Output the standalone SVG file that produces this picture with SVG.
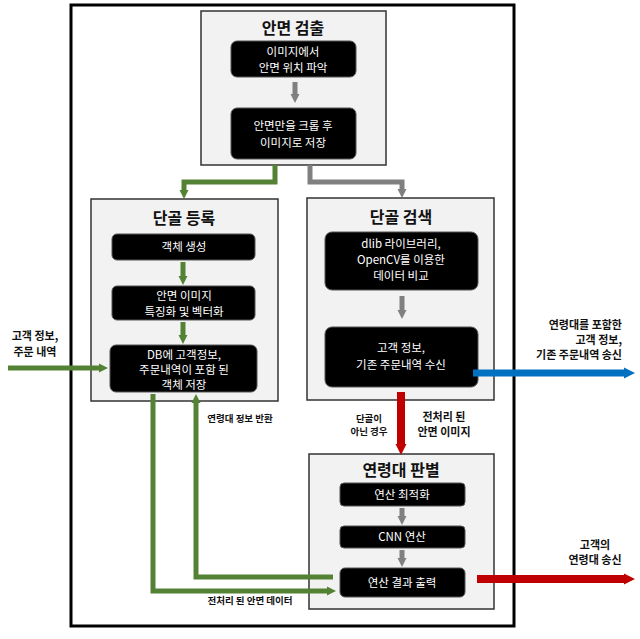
<svg xmlns="http://www.w3.org/2000/svg" width="640" height="639" viewBox="0 0 640 639">
<defs>
<style>
.frame{fill:#fff;stroke:#000;stroke-width:3}
.grp{fill:#f2f2f2;stroke:#333;stroke-width:1.5}
.blk{fill:#000;stroke:#555;stroke-width:1}
.t{font-family:"Noto Sans CJK KR","Noto Sans",sans-serif;text-anchor:middle}
.title{font-size:16px;font-weight:700;fill:#111}
.bt{font-size:11.5px;fill:#fff}
.lb{font-size:11px;font-weight:700;fill:#111}
.sl{font-size:9.5px;font-weight:700;fill:#111}
.c{fill:none;stroke-linejoin:miter}
.g{stroke:#548235;stroke-width:5}
.gy{stroke:#808080;stroke-width:5}
.b{stroke:#0070c0;stroke-width:7}
.r{stroke:#c00000;stroke-width:8}
</style>
<marker id="ag" viewBox="0 0 10 10" refX="0" refY="5" markerUnits="userSpaceOnUse" markerWidth="9" markerHeight="14" orient="auto"><path d="M0,0 L10,5 L0,10 z" fill="#548235"/></marker>
<marker id="agy" viewBox="0 0 10 10" refX="0" refY="5" markerUnits="userSpaceOnUse" markerWidth="9" markerHeight="14" orient="auto"><path d="M0,0 L10,5 L0,10 z" fill="#808080"/></marker>
<marker id="ab" viewBox="0 0 10 10" refX="0" refY="5" markerUnits="userSpaceOnUse" markerWidth="11" markerHeight="20" orient="auto"><path d="M0,0 L10,5 L0,10 z" fill="#0070c0"/></marker>
<marker id="ar" viewBox="0 0 10 10" refX="0" refY="5" markerUnits="userSpaceOnUse" markerWidth="11" markerHeight="22" orient="auto"><path d="M0,0 L10,5 L0,10 z" fill="#c00000"/></marker>
</defs>
<rect x="0" y="0" width="640" height="639" fill="#fff"/>
<rect class="frame" x="71" y="5" width="443" height="621"/>

<g id="face-detect">
<rect class="grp" x="201" y="11" width="185" height="154"/>
<text class="t title" x="293" y="34">안면 검출</text>
<rect class="blk" x="231" y="41" width="125" height="36" rx="6"/>
<text class="t bt" x="293" y="56">이미지에서<tspan x="293" dy="16">안면 위치 파악</tspan></text>
<rect class="blk" x="231" y="108" width="125" height="51" rx="6"/>
<text class="t bt" x="293" y="130">안면만을 크롭 후<tspan x="293" dy="17">이미지로 저장</tspan></text>
</g>

<g id="regular-register">
<rect class="grp" x="91" y="199" width="187" height="202"/>
<text class="t title" x="184" y="224">단골 등록</text>
<rect class="blk" x="112" y="234" width="143" height="26" rx="5"/>
<text class="t bt" x="184" y="251">객체 생성</text>
<rect class="blk" x="112" y="286" width="143" height="34" rx="5"/>
<text class="t bt" x="184" y="300">안면 이미지<tspan x="184" dy="15.5">특징화 및 벡터화</tspan></text>
<rect class="blk" x="110" y="345" width="147" height="47" rx="6"/>
<text class="t bt" x="184" y="359">DB에 고객정보,<tspan x="184" dy="15">주문내역이 포함 된</tspan><tspan x="184" dy="15">객체 저장</tspan></text>
</g>

<g id="regular-search">
<rect class="grp" x="307" y="198" width="187" height="202"/>
<text class="t title" x="401" y="223">단골 검색</text>
<rect class="blk" x="325" y="232" width="153" height="58" rx="7"/>
<text class="t bt" x="401" y="248">dlib 라이브러리,<tspan x="401" dy="16">OpenCV를 이용한</tspan><tspan x="401" dy="16">데이터 비교</tspan></text>
<rect class="blk" x="325" y="327" width="153" height="60" rx="7"/>
<text class="t bt" x="401" y="352">고객 정보,<tspan x="401" dy="17">기존 주문내역 수신</tspan></text>
</g>

<g id="age-classify">
<rect class="grp" x="309" y="454" width="185" height="155"/>
<text class="t title" x="401" y="476">연령대 판별</text>
<rect class="blk" x="340" y="483" width="125" height="23" rx="4"/>
<text class="t bt" x="402" y="499">연산 최적화</text>
<rect class="blk" x="340" y="526" width="125" height="22" rx="4"/>
<text class="t bt" x="402" y="541">CNN 연산</text>
<rect class="blk" x="340" y="568" width="125" height="29" rx="5"/>
<text class="t bt" x="402" y="587">연산 결과 출력</text>
</g>

<g id="connectors">
<polyline class="c g" points="275,165 275,182 184,182 184,190" marker-end="url(#ag)"/>
<polyline class="c gy" points="310,165 310,182 402,182 402,189" marker-end="url(#agy)"/>
<line class="c gy" x1="295" y1="82" x2="295" y2="94" marker-end="url(#agy)"/>
<line class="c g" x1="183" y1="262" x2="183" y2="276" marker-end="url(#ag)"/>
<line class="c g" x1="183" y1="322" x2="183" y2="335" marker-end="url(#ag)"/>
<line class="c gy" x1="402" y1="296" x2="402" y2="310" marker-end="url(#agy)"/>
<line class="c gy" x1="402" y1="508" x2="402" y2="516" marker-end="url(#agy)"/>
<line class="c gy" x1="402" y1="550" x2="402" y2="558" marker-end="url(#agy)"/>
<line class="c g" x1="8" y1="368" x2="99" y2="368" marker-end="url(#ag)"/>
<line class="c b" x1="473" y1="373" x2="624" y2="373" marker-end="url(#ab)"/>
<line class="c r" x1="401" y1="392" x2="401" y2="444" marker-end="url(#ar)"/>
<line class="c r" x1="477" y1="579" x2="624" y2="579" marker-end="url(#ar)"/>
<polyline class="c g" points="153,394 153,591 327,591" marker-end="url(#ag)"/>
<polyline class="c g" points="333,577 196,577 196,403" marker-end="url(#ag)"/>
</g>

<g id="labels">
<text class="t lb" x="35" y="340">고객 정보,<tspan x="35" dy="16">주문 내역</tspan></text>
<text class="t lb" x="622" y="329" style="text-anchor:end">연령대를 포함한<tspan x="622" dy="15">고객 정보,</tspan><tspan x="622" dy="15">기존 주문내역 송신</tspan></text>
<text class="t sl" x="369" y="422">단골이<tspan x="369" dy="13">아닌 경우</tspan></text>
<text class="t lb" x="444" y="421">전처리 된<tspan x="444" dy="15">안면 이미지</tspan></text>
<text class="t sl" x="240" y="422">연령대 정보 반환</text>
<text class="t sl" x="250" y="604">전처리 된 안면 데이터</text>
<text class="t lb" x="595" y="549">고객의<tspan x="595" dy="15">연령대 송신</tspan></text>
</g>
</svg>
